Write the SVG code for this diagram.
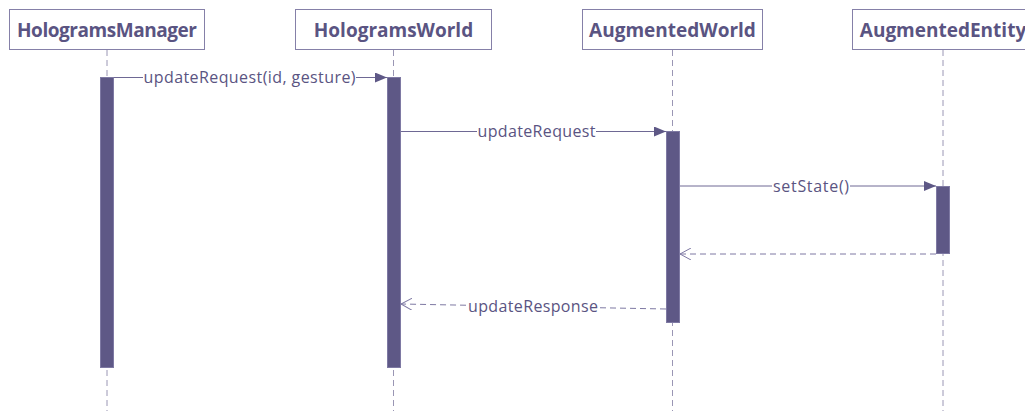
<svg xmlns="http://www.w3.org/2000/svg" width="1025" height="411" viewBox="0 0 1025 411">
  <style>
    .box { fill: #ffffff; stroke: #8580a8; stroke-width: 1; }
    .title { font-family: "Open Sans", "Liberation Sans", sans-serif; font-weight: bold; font-size: 19px; fill: #5a5482; text-anchor: middle; }
    .life { stroke: #9a96b4; stroke-width: 1; stroke-dasharray: 6 4; fill: none; }
    .act { fill: #5e5886; stroke: #7e79a3; stroke-width: 1; }
    .msg { stroke: #6e6894; stroke-width: 1; fill: none; }
    .ret { stroke: #7e79a3; stroke-width: 1; fill: none; stroke-dasharray: 6 4; }
    .lbl { font-family: "Open Sans", "Liberation Sans", sans-serif; font-size: 16px; fill: #5a5482; text-anchor: middle; }
    .lblbg { fill: #ffffff; }
  </style>
  <defs>
    <marker id="solid" viewBox="0 0 12 10" refX="12" refY="5" markerWidth="12" markerHeight="10" markerUnits="userSpaceOnUse" orient="auto">
      <path d="M0,0 L12,5 L0,10 z" fill="#5e5886"/>
    </marker>
    <marker id="open" viewBox="0 0 12 12" refX="11" refY="6" markerWidth="12" markerHeight="12" markerUnits="userSpaceOnUse" orient="auto">
      <path d="M0,0 L11,6 L0,12" fill="none" stroke="#7e79a3" stroke-width="1"/>
    </marker>
  </defs>

  <!-- lifelines -->
  <g id="lifelines">
    <line class="life" x1="107" y1="50" x2="107" y2="411"/>
    <line class="life" x1="393.5" y1="50" x2="393.5" y2="411"/>
    <line class="life" x1="672.5" y1="50" x2="672.5" y2="411"/>
    <line class="life" x1="943" y1="50" x2="943" y2="411"/>
  </g>

  <g id="HologramsManager">
    <rect class="box" x="9.5" y="9.5" width="195" height="40"/>
    <text class="title" x="107" y="36.5" textLength="180">HologramsManager</text>
    <rect class="act" x="100.5" y="77.5" width="13" height="290"/>
  </g>
  <g id="HologramsWorld">
    <rect class="box" x="295.5" y="9.5" width="196" height="40"/>
    <text class="title" x="393.5" y="36.5">HologramsWorld</text>
    <rect class="act" x="387.5" y="77.5" width="13" height="290"/>
  </g>
  <g id="AugmentedWorld">
    <rect class="box" x="582.5" y="9.5" width="180" height="40"/>
    <text class="title" x="672.5" y="36.5">AugmentedWorld</text>
    <rect class="act" x="666.5" y="131.5" width="13" height="191"/>
  </g>
  <g id="AugmentedEntity">
    <rect class="box" x="852.5" y="9.5" width="185" height="40"/>
    <text class="title" x="943" y="36.5">AugmentedEntity</text>
    <rect class="act" x="936.5" y="186.5" width="13" height="67"/>
  </g>

  <!-- messages -->
  <g id="connectors">
    <line class="msg" x1="114" y1="77.5" x2="387" y2="77.5" marker-end="url(#solid)"/>
    <rect class="lblbg" x="143" y="68" width="213" height="19"/>
    <text class="lbl" x="249.5" y="83" textLength="212">updateRequest(id, gesture)</text>

    <line class="msg" x1="401" y1="131.5" x2="666" y2="131.5" marker-end="url(#solid)"/>
    <rect class="lblbg" x="477" y="122" width="119" height="19"/>
    <text class="lbl" x="536.5" y="137" textLength="118">updateRequest</text>

    <line class="msg" x1="680" y1="186" x2="936" y2="186" marker-end="url(#solid)"/>
    <rect class="lblbg" x="772" y="177" width="78" height="19"/>
    <text class="lbl" x="811" y="191.5" textLength="76">setState()</text>

    <line class="ret" x1="936" y1="254" x2="680" y2="254" marker-end="url(#open)"/>

    <line class="ret" x1="666" y1="309" x2="401" y2="304" marker-end="url(#open)"/>
    <rect class="lblbg" x="466" y="297" width="134" height="19"/>
    <text class="lbl" x="533" y="311.5" textLength="130">updateResponse</text>
  </g>
</svg>
